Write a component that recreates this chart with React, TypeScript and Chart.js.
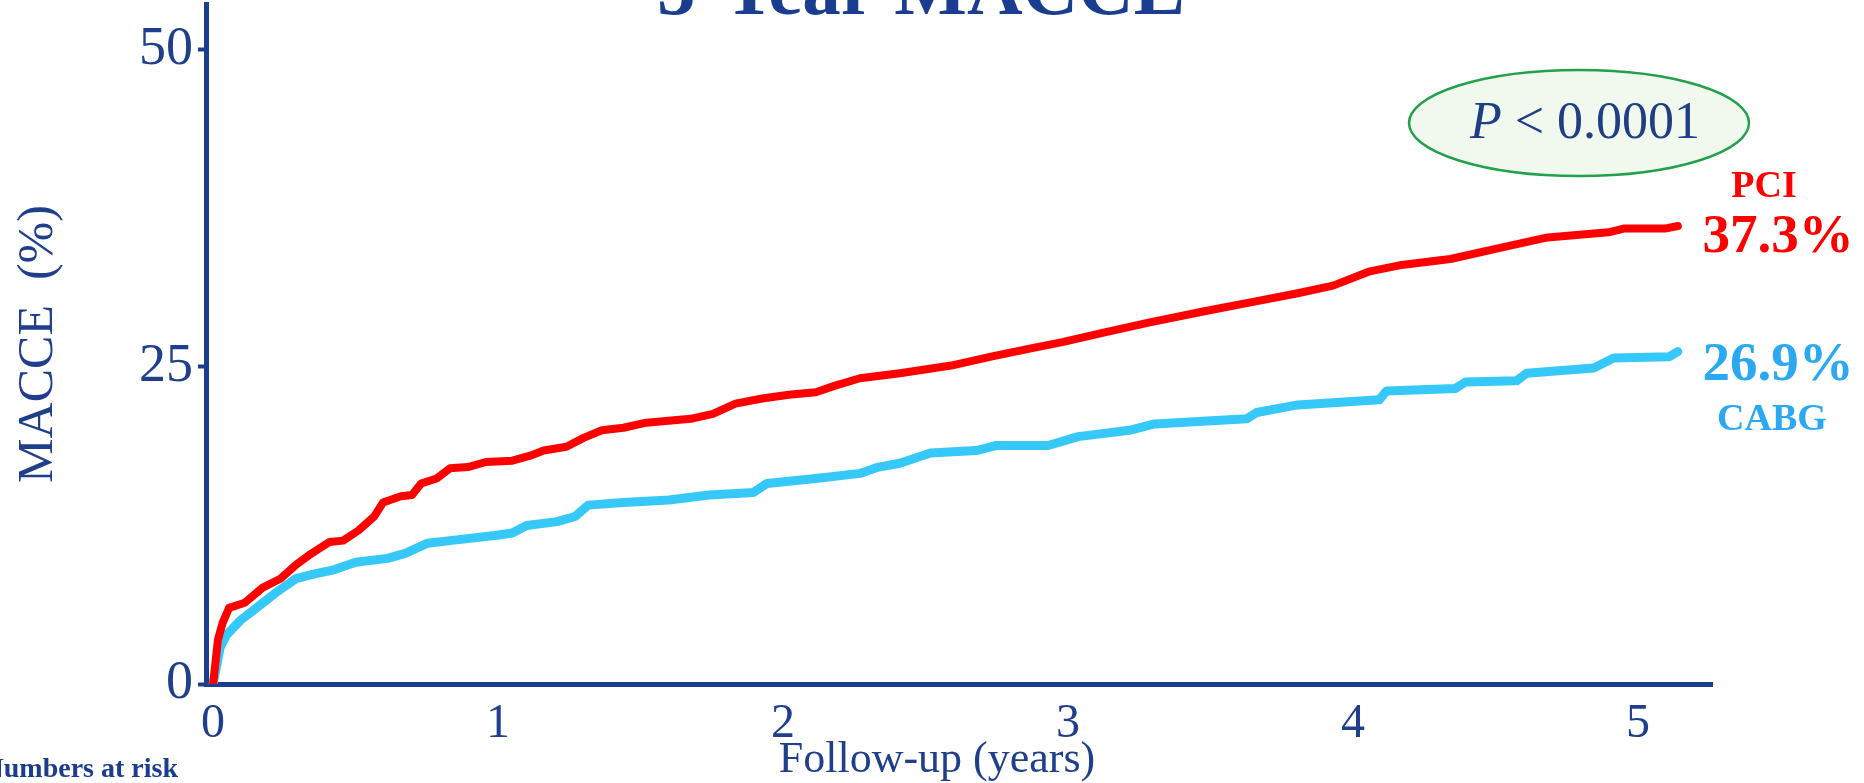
import React, { useEffect, useRef } from 'react';
import { Chart, registerables } from 'chart.js';

Chart.register(...registerables);

// ---- Data ----
const pciYears = [0, 0.017, 0.033, 0.056, 0.111, 0.174, 0.236, 0.291, 0.346, 0.409, 0.456, 0.51, 0.565, 0.596, 0.659, 0.698, 0.73, 0.784, 0.831, 0.894, 0.957, 1.05, 1.113, 1.16, 1.24, 1.3, 1.364, 1.44, 1.52, 1.676, 1.754, 1.833, 1.927, 2.02, 2.115, 2.18, 2.27, 2.41, 2.59, 2.73, 2.857, 2.98, 3.125, 3.287, 3.483, 3.645, 3.806, 3.93, 4.055, 4.163, 4.342, 4.52, 4.683, 4.897, 4.95, 5.095, 5.14];
const pciPct = [0, 3.5, 4.8, 6.0, 6.4, 7.6, 8.3, 9.4, 10.3, 11.2, 11.3, 12.1, 13.2, 14.3, 14.8, 14.9, 15.8, 16.2, 17.0, 17.1, 17.5, 17.6, 18.0, 18.4, 18.7, 19.4, 20.0, 20.2, 20.6, 20.9, 21.3, 22.1, 22.5, 22.8, 23.0, 23.5, 24.1, 24.5, 25.1, 25.8, 26.4, 26.95, 27.7, 28.5, 29.4, 30.1, 30.8, 31.4, 32.5, 33.0, 33.5, 34.4, 35.2, 35.6, 35.9, 35.9, 36.1];

const cabgYears = [0, 0.025, 0.048, 0.095, 0.158, 0.22, 0.29, 0.36, 0.424, 0.5, 0.612, 0.674, 0.753, 0.831, 0.988, 1.05, 1.1, 1.207, 1.27, 1.316, 1.44, 1.6, 1.74, 1.896, 1.943, 2.115, 2.27, 2.335, 2.41, 2.517, 2.678, 2.75, 2.93, 3.036, 3.215, 3.304, 3.627, 3.662, 3.806, 4.092, 4.118, 4.36, 4.395, 4.574, 4.61, 4.845, 4.915, 5.11, 5.14];
const cabgPct = [0, 2.9, 3.9, 5.0, 6.1, 7.2, 8.3, 8.7, 9.0, 9.6, 9.9, 10.3, 11.1, 11.3, 11.7, 11.9, 12.5, 12.8, 13.2, 14.1, 14.3, 14.5, 14.9, 15.1, 15.8, 16.2, 16.6, 17.1, 17.4, 18.2, 18.4, 18.8, 18.8, 19.5, 20.0, 20.5, 20.9, 21.4, 22.0, 22.4, 23.1, 23.3, 23.8, 23.9, 24.5, 24.9, 25.7, 25.8, 26.2];

const xTickValues = [0, 1, 2, 3, 4, 5];
const yTickValues = [0, 25, 50];

const seriesNames = ['PCI', 'CABG'];
const endLabels = ['37.3%', '26.9%'];
const titleText = '5-Year MACCE';
const pValueText = '< 0.0001';
const xTitle = 'Follow-up (years)';
const yTitle = 'MACCE  (%)';
const riskText = 'Numbers at risk';

// ---- Styles ----
const NAVY = '#1b3d8f';
const TEXT_NAVY = '#1f3f8c';
const RED = '#ff0000';
const CYAN = '#36c8f8';
const LABEL_BLUE = '#2aa8f2';
const SERIF = '"Liberation Serif", "DejaVu Serif", serif';

const toPoints = (xs: number[], ys: number[]) => xs.map((x, i) => ({ x, y: ys[i] }));

const annotationPlugin = {
  id: 'slideAnnotations',
  afterDraw(chart: any) {
    const c: CanvasRenderingContext2D = chart.ctx;
    c.save();

    // Title (partly cut off at the top of the slide)
    c.fillStyle = NAVY;
    c.font = `bold 77px ${SERIF}`;
    c.textAlign = 'center';
    c.textBaseline = 'alphabetic';
    c.fillText(titleText, 921, 14);

    // P-value ellipse
    c.beginPath();
    c.ellipse(1579, 123, 170, 53, 0, 0, Math.PI * 2);
    c.fillStyle = '#f1f9ee';
    c.fill();
    c.lineWidth = 2.5;
    c.strokeStyle = '#22a04b';
    c.stroke();

    c.fillStyle = '#203f82';
    c.textAlign = 'left';
    c.font = `italic 52px ${SERIF}`;
    const pW = c.measureText('P').width;
    c.font = `52px ${SERIF}`;
    const restW = c.measureText(' ' + pValueText).width;
    const startX = 1585 - (pW + restW) / 2;
    c.font = `italic 52px ${SERIF}`;
    c.fillText('P', startX, 138);
    c.font = `52px ${SERIF}`;
    c.fillText(' ' + pValueText, startX + pW, 138);

    // Series end labels
    c.textAlign = 'center';
    c.fillStyle = RED;
    c.font = `bold 38px ${SERIF}`;
    c.fillText(seriesNames[0], 1764, 197);
    c.font = `bold 55px ${SERIF}`;
    c.fillText(endLabels[0], 1778, 252);

    c.fillStyle = LABEL_BLUE;
    c.font = `bold 55px ${SERIF}`;
    c.fillText(endLabels[1], 1778, 380);
    c.font = `bold 38px ${SERIF}`;
    c.fillText(seriesNames[1], 1772, 430);

    // "Numbers at risk" (cut off at left edge)
    c.fillStyle = NAVY;
    c.textAlign = 'right';
    c.font = `bold 28px ${SERIF}`;
    c.fillText(riskText, 178, 777);

    c.restore();
  },
};

export default function App() {
  const canvasRef = useRef<HTMLCanvasElement>(null);

  useEffect(() => {
    const canvas = canvasRef.current;
    if (!canvas) return;
    const chart = new Chart(canvas, {
      type: 'line',
      data: {
        datasets: [
          {
            label: seriesNames[0],
            data: toPoints(pciYears, pciPct),
            borderColor: RED,
            backgroundColor: RED,
            borderWidth: 8,
            pointRadius: 0,
            tension: 0,
            borderCapStyle: 'round',
            borderJoinStyle: 'round',
          },
          {
            label: seriesNames[1],
            data: toPoints(cabgYears, cabgPct),
            borderColor: CYAN,
            backgroundColor: CYAN,
            borderWidth: 9,
            pointRadius: 0,
            tension: 0,
            borderCapStyle: 'round',
            borderJoinStyle: 'round',
          },
        ],
      },
      options: {
        animation: false,
        responsive: false,
        devicePixelRatio: 1,
        layout: { padding: { left: 0, top: 4, right: 152, bottom: 0 } },
        plugins: {
          legend: { display: false },
          tooltip: { enabled: false },
        },
        scales: {
          x: {
            type: 'linear',
            min: -0.025,
            max: 5.26,
            afterBuildTicks: (scale: any) => {
              scale.ticks = xTickValues.map((v) => ({ value: v }));
            },
            afterFit: (scale: any) => {
              scale.height = 99;
              scale.paddingLeft = 0;
              scale.paddingRight = 0;
            },
            grid: { display: false, drawTicks: false },
            border: { display: true, color: NAVY, width: 5 },
            ticks: {
              color: TEXT_NAVY,
              font: { family: SERIF, size: 48, lineHeight: 1 },
              padding: 16,
              maxRotation: 0,
              autoSkip: false,
              callback: (v: any) => String(v),
            },
            title: {
              display: true,
              text: xTitle + '\u00a0\u00a0\u00a0\u00a0',
              color: TEXT_NAVY,
              font: { family: SERIF, size: 44, lineHeight: 1 },
              padding: { top: 0, bottom: 1 },
            },
          },
          y: {
            type: 'linear',
            min: 0,
            max: 53.6,
            afterBuildTicks: (scale: any) => {
              scale.ticks = yTickValues.map((v) => ({ value: v }));
            },
            afterFit: (scale: any) => {
              scale.width = 206;
              scale.paddingTop = 0;
              scale.paddingBottom = 0;
            },
            grid: {
              display: true,
              drawOnChartArea: false,
              drawTicks: true,
              tickLength: 8,
              tickWidth: 4,
              tickColor: NAVY,
            },
            border: { display: true, color: NAVY, width: 5 },
            ticks: {
              color: TEXT_NAVY,
              font: { family: SERIF, size: 54, lineHeight: 1 },
              padding: 5,
              callback: (v: any) => String(v),
            },
            title: {
              display: true,
              text: yTitle,
              color: TEXT_NAVY,
              font: { family: SERIF, size: 50, lineHeight: 1 },
              padding: { top: 14, bottom: 0 },
            },
          },
        },
      },
      plugins: [annotationPlugin],
    } as any);
    return () => chart.destroy();
  }, []);

  return (
    <div style={{ position: 'absolute', left: 0, top: 0, width: 1864, height: 783, background: '#ffffff', overflow: 'hidden' }}>
      <canvas ref={canvasRef} width={1864} height={783} style={{ display: 'block', width: 1864, height: 783 }} />
    </div>
  );
}
